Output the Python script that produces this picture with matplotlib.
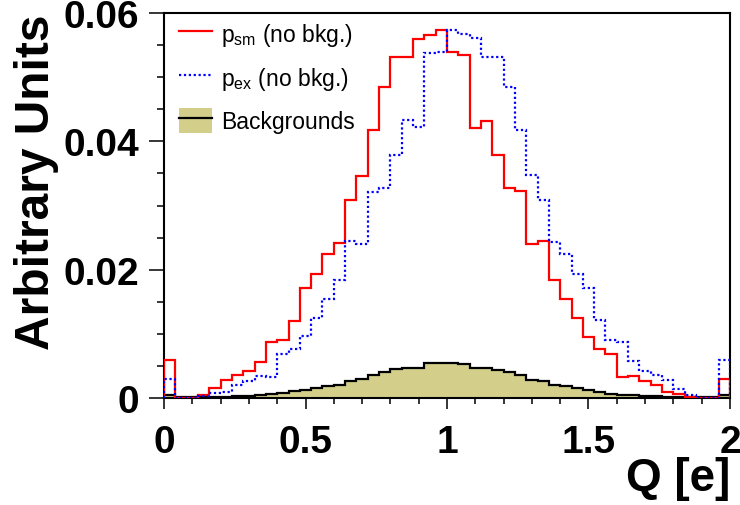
import numpy as np
import matplotlib
matplotlib.use("Agg")
import matplotlib.pyplot as plt
from matplotlib.lines import Line2D
from matplotlib.patches import Patch
from matplotlib.ticker import MultipleLocator

plt.rcParams['font.family'] = ['Liberation Sans', 'DejaVu Sans']
plt.rcParams['mathtext.default'] = 'regular'

# histogram binning: 50 bins on Q in [0, 2]
q_min, q_max, n_bins = 0.0, 2.0, 50

# p_sm (no bkg.)
p_sm = [0.0060, 0.0, 0.0, 0.0004, 0.0015, 0.0028, 0.0036, 0.0042, 0.0056, 0.0088,
        0.0091, 0.0120, 0.0171, 0.0194, 0.0224, 0.0242, 0.0308, 0.0346, 0.0418, 0.0485,
        0.0531, 0.0531, 0.0560, 0.0566, 0.0574, 0.0539, 0.0535, 0.0421, 0.0432, 0.0379,
        0.0328, 0.0322, 0.0240, 0.0244, 0.0184, 0.0154, 0.0124, 0.0095, 0.0077, 0.0068,
        0.0033, 0.0035, 0.0027, 0.0021, 0.0009, 0.0007, 0.0002, 0.0, 0.0, 0.0030]

# p_ex (no bkg.)
p_ex = [0.0030, 0.0, 0.0, 0.0003, 0.0008, 0.0009, 0.0021, 0.0027, 0.0035, 0.0032,
        0.0069, 0.0077, 0.0096, 0.0125, 0.0154, 0.0184, 0.0245, 0.0240, 0.0321, 0.0327,
        0.0379, 0.0433, 0.0422, 0.0537, 0.0540, 0.0574, 0.0567, 0.0561, 0.0531, 0.0531,
        0.0484, 0.0418, 0.0348, 0.0308, 0.0243, 0.0224, 0.0194, 0.0171, 0.0121, 0.0090,
        0.0088, 0.0057, 0.0042, 0.0036, 0.0028, 0.0014, 0.0004, 0.0, 0.0, 0.0059]

# backgrounds
bkg = [0.0004, 0.0001, 0.0001, 0.0001, 0.0001, 0.0001, 0.00026, 0.00036, 0.00047, 0.00068,
       0.00083, 0.0011, 0.0013, 0.0015, 0.0018, 0.0020, 0.0027, 0.0029, 0.0036, 0.0040,
       0.0045, 0.0047, 0.0047, 0.0054, 0.0055, 0.0054, 0.0053, 0.0047, 0.0047, 0.0044,
       0.0040, 0.0036, 0.0028, 0.0027, 0.0020, 0.0018, 0.0015, 0.0012, 0.0009, 0.0007,
       0.0005, 0.0004, 0.0003, 0.0003, 0.0002, 0.0001, 0.0001, 0.0001, 0.0001, 0.0004]

edges = np.linspace(q_min, q_max, n_bins + 1)
khaki = '#d3cf8b'

fig = plt.figure(figsize=(7.4, 5.06), dpi=100)
ax = fig.add_axes([164 / 740, 1 - 399 / 506, 566 / 740, 385 / 506])

ax.stairs(bkg, edges, fill=True, color=khaki, zorder=1)
ax.stairs(bkg, edges, color='black', lw=1.6, baseline=None, zorder=2)
ax.stairs(p_sm, edges, color='red', lw=1.6, zorder=3)
ax.stairs(p_ex, edges, color='blue', lw=1.6, ls=(0, (1, 1.2)), zorder=4)

ax.set_xlim(q_min, q_max)
ax.set_ylim(0, 0.06)

ax.xaxis.set_minor_locator(MultipleLocator(0.1))
ax.yaxis.set_minor_locator(MultipleLocator(0.005))
ax.set_xticks([0, 0.5, 1, 1.5, 2])
ax.set_xticklabels(['0', '0.5', '1', '1.5', '2'])
ax.set_yticks([0, 0.02, 0.04, 0.06])
ax.set_yticklabels(['0', '0.02', '0.04', '0.06'])

ax.tick_params(axis='both', which='both', direction='out', width=1.1, color='black')
ax.tick_params(axis='y', which='major', length=11, pad=7, labelsize=28)
ax.tick_params(axis='y', which='minor', length=5)
ax.tick_params(axis='x', which='major', length=8, pad=11, labelsize=28)
ax.tick_params(axis='x', which='minor', length=4)
for lab in ax.get_xticklabels() + ax.get_yticklabels():
    lab.set_fontweight('bold')
for s in ax.spines.values():
    s.set_linewidth(1.5)

ax.set_xlabel('Q [e]', loc='right', fontsize=33, fontweight='bold', labelpad=-3)
ax.set_ylabel('Arbitrary Units', loc='top', fontsize=34.5, fontweight='bold', labelpad=3)

handles = [Line2D([], [], color='red', lw=1.6),
           Line2D([], [], color='blue', lw=1.6, ls=(0, (1, 1.2))),
           (Patch(facecolor=khaki, edgecolor='none'), Line2D([], [], color='black', lw=1.6))]
labels = ['p$_{sm}$ (no bkg.)', 'p$_{ex}$ (no bkg.)', 'Backgrounds']
ax.legend(handles, labels, loc='upper left', bbox_to_anchor=(15 / 566, 1 - 8 / 385),
          frameon=False, fontsize=16.5, borderpad=0, borderaxespad=0,
          handlelength=1.45, handleheight=1.3, handletextpad=0.4, labelspacing=0.72)

fig.savefig('out.png', dpi=100)
